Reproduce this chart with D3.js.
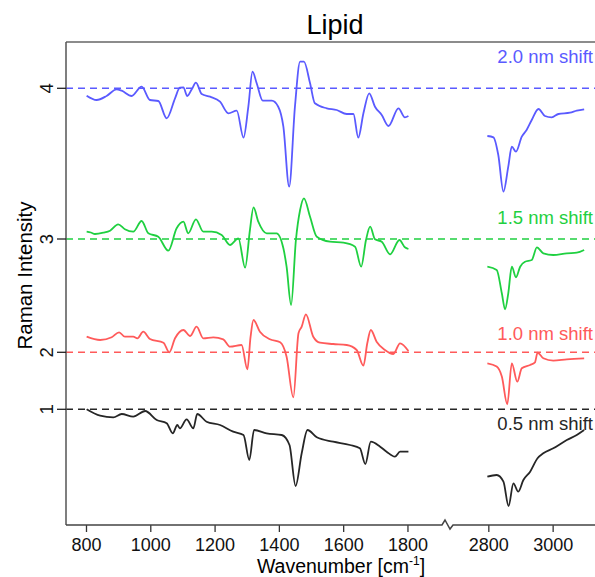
<!DOCTYPE html>
<html><head><meta charset="utf-8">
<script src="https://cdn.jsdelivr.net/npm/d3@7"></script>
<style>body{margin:0;background:#fff;overflow:hidden} text{font-family:"Liberation Sans",Arial,Helvetica,sans-serif}</style>
</head><body><svg id="c" width="595" height="577"></svg>
<script>
// ---- data ----
const seriesNames = ["2.0 nm shift", "1.5 nm shift", "1.0 nm shift", "0.5 nm shift"];
const seriesColors = ["#5a5aff", "#1fd040", "#ff5a5a", "#262626"];
const baselines = [4.367, 2.86, 1.727, 1.157];   // offset level of each spectrum
const yTickLabels = ["4", "3", "2", "1"];
const xTicks = [800, 1000, 1200, 1400, 1600, 1800, 2800, 3000];

// spectra: [wavenumber, intensity relative to the spectrum's offset level]
const blueLow = [[802,-0.074],[833,-0.117],[864,-0.077],[895,-0.010],[911,-0.024],[942,-0.077],[973,0.016],[999,-0.117],[1025,-0.127],[1051,-0.300],[1077,-0.100],[1092,0.006],[1103,0.009],[1115,-0.077],[1129,-0.010],[1142,0.056],[1160,-0.057],[1186,-0.084],[1217,-0.134],[1243,-0.250],[1269,-0.224],[1290,-0.494],[1305,-0.184],[1318,0.166],[1331,0.050],[1350,-0.124],[1378,-0.124],[1398,-0.184],[1414,-0.384],[1432,-0.984],[1450,-0.184],[1466,0.266],[1478,0.266],[1497,0.050],[1512,-0.150],[1549,-0.200],[1580,-0.217],[1611,-0.257],[1632,-0.257],[1647,-0.494],[1663,-0.250],[1681,-0.050],[1699,-0.184],[1720,-0.267],[1741,-0.377],[1772,-0.200],[1792,-0.290],[1803,-0.277]];
const blueHigh = [[2797,-0.477],[2816,-0.490],[2831,-0.667],[2847,-1.034],[2862,-0.784],[2873,-0.584],[2886,-0.634],[2904,-0.484],[2919,-0.417],[2935,-0.317],[2956,-0.207],[2976,-0.277],[2997,-0.290],[3018,-0.257],[3054,-0.244],[3075,-0.224],[3098,-0.210]];
const greenLow = [[802,0.073],[815,0.065],[828,0.050],[854,0.063],[875,0.083],[900,0.147],[921,0.097],[947,0.073],[973,0.180],[994,0.057],[1025,0.023],[1056,-0.117],[1082,0.107],[1103,0.173],[1118,0.057],[1142,0.197],[1165,0.073],[1191,0.073],[1222,0.040],[1248,-0.060],[1274,0.007],[1295,-0.287],[1310,0.090],[1321,0.317],[1336,0.173],[1362,0.057],[1393,0.057],[1414,-0.093],[1424,-0.277],[1438,-0.660],[1453,-0.010],[1466,0.290],[1478,0.407],[1497,0.223],[1518,0.023],[1559,-0.027],[1601,-0.037],[1637,-0.077],[1656,-0.277],[1671,-0.010],[1684,0.123],[1699,-0.003],[1720,-0.027],[1746,-0.153],[1775,-0.010],[1792,-0.083],[1803,-0.100]];
const greenHigh = [[2797,-0.277],[2826,-0.310],[2842,-0.543],[2852,-0.703],[2862,-0.543],[2873,-0.277],[2886,-0.383],[2899,-0.277],[2914,-0.227],[2935,-0.210],[2951,-0.083],[2971,-0.143],[3002,-0.160],[3044,-0.143],[3075,-0.137],[3098,-0.110]];
const redLow = [[802,0.156],[844,0.123],[880,0.150],[903,0.200],[921,0.156],[947,0.156],[960,0.140],[978,0.206],[999,0.133],[1041,0.096],[1059,0.000],[1077,0.140],[1103,0.223],[1124,0.163],[1144,0.256],[1165,0.140],[1196,0.150],[1227,0.130],[1248,0.056],[1284,0.073],[1302,-0.170],[1312,0.156],[1321,0.323],[1341,0.206],[1372,0.130],[1404,0.100],[1424,-0.044],[1445,-0.450],[1461,0.190],[1471,0.256],[1484,0.380],[1507,0.156],[1528,0.096],[1569,0.083],[1611,0.073],[1642,0.023],[1663,-0.134],[1675,0.090],[1686,0.223],[1704,0.106],[1730,0.023],[1756,-0.017],[1777,0.090],[1803,0.013]];
const redHigh = [[2797,-0.110],[2826,-0.143],[2842,-0.243],[2859,-0.520],[2873,-0.110],[2890,-0.294],[2904,-0.160],[2930,-0.127],[2945,-0.100],[2953,-0.004],[2971,-0.060],[3002,-0.084],[3044,-0.070],[3098,-0.060]];
const blackLow = [[802,0.000],[844,-0.064],[885,-0.080],[911,-0.047],[947,-0.074],[984,-0.017],[1020,-0.107],[1051,-0.140],[1070,-0.240],[1084,-0.157],[1092,-0.190],[1113,-0.100],[1134,-0.190],[1146,-0.047],[1175,-0.124],[1217,-0.157],[1258,-0.224],[1290,-0.257],[1308,-0.507],[1323,-0.207],[1362,-0.240],[1409,-0.257],[1433,-0.357],[1452,-0.767],[1471,-0.440],[1489,-0.207],[1518,-0.280],[1569,-0.324],[1621,-0.357],[1652,-0.390],[1669,-0.547],[1686,-0.324],[1715,-0.374],[1735,-0.424],[1761,-0.474],[1777,-0.424],[1803,-0.424]];
const blackHigh = [[2797,-0.674],[2826,-0.657],[2847,-0.724],[2863,-0.967],[2878,-0.740],[2893,-0.824],[2909,-0.707],[2930,-0.624],[2953,-0.490],[2971,-0.440],[3002,-0.390],[3044,-0.307],[3075,-0.257],[3098,-0.207]];

const spectra = [[blueLow, blueHigh], [greenLow, greenHigh], [redLow, redHigh], [blackLow, blackHigh]];

// ---- layout ----
const L = 66, T = 42, B = 525, R = 616, BRK = 447;
const svg = d3.select("#c");
const x = d3.scaleLinear().domain([737.8, 1923, 2671.5, 3197]).range([L, BRK, BRK, R]);
const y = d3.scaleLinear().domain([0, 4.83]).range([B, T]);

svg.append("defs").append("clipPath").attr("id", "clip")
  .append("rect").attr("x", L).attr("y", T).attr("width", R - L).attr("height", B - T);

// dashed offset lines
baselines.forEach((b, i) => {
  svg.append("line").attr("x1", L).attr("x2", R).attr("y1", y(b)).attr("y2", y(b))
    .attr("stroke", seriesColors[i]).attr("stroke-width", 1.4).attr("stroke-dasharray", "7,5");
});

// spectra
const line = d3.line().x(d => x(d[0])).y(d => y(d[1])).curve(d3.curveMonotoneX);
const g = svg.append("g").attr("clip-path", "url(#clip)");
spectra.forEach((segs, i) => {
  segs.forEach(seg => {
    g.append("path").datum(seg.map(d => [d[0], baselines[i] + d[1]]))
      .attr("d", line).attr("fill", "none").attr("stroke", seriesColors[i])
      .attr("stroke-width", 1.8).attr("stroke-linejoin", "round");
  });
});

// series labels
const labelY = [63, 224, 340, 430];
seriesNames.forEach((n, i) => {
  svg.append("text").attr("x", 593).attr("y", labelY[i]).attr("text-anchor", "end")
    .attr("font-size", 18.5).attr("fill", seriesColors[i]).text(n);
});

// frame: top and left
svg.append("line").attr("x1", L).attr("x2", R).attr("y1", T).attr("y2", T).attr("stroke", "#666").attr("stroke-width", 1.5);
svg.append("line").attr("x1", L).attr("x2", L).attr("y1", T).attr("y2", B).attr("stroke", "#555").attr("stroke-width", 1.5);

// bottom axis with break
const xAxis = d3.axisBottom(x).tickValues(xTicks).tickSize(7).tickSizeOuter(0).tickFormat(d3.format("d"));
const ax = svg.append("g").attr("transform", `translate(0,${B})`).call(xAxis);
ax.select(".domain").remove();
ax.selectAll(".tick line").attr("stroke", "#333").attr("stroke-width", 1.3);
ax.selectAll(".tick text").attr("font-size", 18).attr("fill", "#111").attr("y", 26).attr("dy", 0)
  .style("font-family", "'Liberation Sans',Arial,sans-serif");
svg.append("path")
  .attr("d", `M${L},${B}H${BRK - 5}L${BRK - 2},${B - 5}L${BRK + 3},${B + 4}L${BRK + 6},${B}H${R}`)
  .attr("fill", "none").attr("stroke", "#444").attr("stroke-width", 1.5);

// left ticks
baselines.forEach((b, i) => {
  svg.append("line").attr("x1", L - 9).attr("x2", L).attr("y1", y(b)).attr("y2", y(b))
    .attr("stroke", "#222").attr("stroke-width", 1.3);
  svg.append("text").attr("transform", `translate(53,${y(b)}) rotate(-90)`)
    .attr("text-anchor", "middle").attr("font-size", 18.5).attr("fill", "#111").text(yTickLabels[i]);
});

// titles
svg.append("text").attr("x", 335).attr("y", 34).attr("text-anchor", "middle")
  .attr("font-size", 27).attr("fill", "#000").text("Lipid");
svg.append("text").attr("transform", `translate(32,${(T + B) / 2 - 8}) rotate(-90)`)
  .attr("text-anchor", "middle").attr("font-size", 20.5).attr("fill", "#000").text("Raman Intensity");
const xl = svg.append("text").attr("x", 341).attr("y", 573).attr("text-anchor", "middle")
  .attr("font-size", 19.5).attr("fill", "#000");
xl.append("tspan").text("Wavenumber [cm");
xl.append("tspan").attr("font-size", 12).attr("dy", -8).text("-1");
xl.append("tspan").attr("dy", 8).text("]");
</script></body></html>
